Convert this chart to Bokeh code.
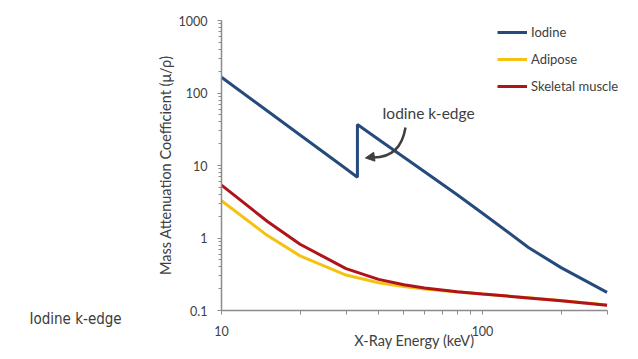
from bokeh.plotting import figure
from bokeh.models import (FixedTicker, Legend, LegendItem, Label, Arrow, NormalHead)
from bokeh.embed import file_html
from bokeh.resources import INLINE

# ---- data ----
iodine_energy = [10, 15, 20, 30, 33.17, 33.17, 40, 50, 60, 80, 100, 150, 200, 300]
iodine_mu = [165, 56.5, 26.4, 9.0, 6.9, 36.8, 22.9, 13.0, 8.2, 3.95, 2.2, 0.74, 0.39, 0.178]

tissue_energy = [10, 15, 20, 30, 40, 50, 60, 80, 100, 150, 200, 300]
adipose_mu = [3.27, 1.08, 0.567, 0.308, 0.241, 0.214, 0.198, 0.180, 0.169, 0.150, 0.137, 0.119]
muscle_mu = [5.36, 1.69, 0.82, 0.378, 0.269, 0.226, 0.205, 0.182, 0.169, 0.149, 0.136, 0.118]

series_names = ["Iodine", "Adipose", "Skeletal muscle"]

x_ticks = [10, 100]
x_tick_labels = ["10", "100"]
y_ticks = [0.1, 1, 10, 100, 1000]
y_tick_labels = ["0.1", "1", "10", "100", "1000"]

annotation_text = "Iodine k-edge"
slide_title = "Iodine k-edge"

# ---- layout / styles ----
W, H = 630, 351
FONT = "Lato"
TXT = "#404040"
AX = "#8c8c8c"
colors = ["#254a7c", "#f5c211", "#b0141b"]

# visible axis extent: x 10..300, y 0.1..1000; the frame covers the whole canvas
x_px_left, x_px_decade = 221, 261.0
y_px_top, y_px_decade = 20, 72.5
x_lo = 10 ** (1 - x_px_left / x_px_decade)
x_hi = 10 ** (1 + (W - x_px_left) / x_px_decade)
y_hi = 10 ** (3 + y_px_top / y_px_decade)
y_lo = 10 ** (3 + y_px_top / y_px_decade - H / y_px_decade)

p = figure(width=W, height=H, x_axis_type="log", y_axis_type="log",
           x_range=(x_lo, x_hi), y_range=(y_lo, y_hi),
           output_backend="svg", toolbar_location=None,
           min_border_left=0, min_border_right=0, min_border_top=0, min_border_bottom=0)
p.outline_line_color = None
p.xgrid.visible = False
p.ygrid.visible = False

r1 = p.line(iodine_energy, iodine_mu, line_color=colors[0], line_width=3)
r2 = p.line(tissue_energy, adipose_mu, line_color=colors[1], line_width=3)
r3 = p.line(tissue_energy, muscle_mu, line_color=colors[2], line_width=3)

# axes
x_minor = [m * d for d in (10, 100) for m in range(2, 10) if m * d <= 300]
y_minor = [m * d for d in (0.1, 1, 10, 100) for m in range(2, 10)]
p.xaxis.ticker = FixedTicker(ticks=x_ticks, minor_ticks=x_minor)
p.yaxis.ticker = FixedTicker(ticks=y_ticks, minor_ticks=y_minor)
p.xaxis.major_label_overrides = {t: l for t, l in zip(x_ticks, x_tick_labels)}
p.yaxis.major_label_overrides = {t: l for t, l in zip(y_ticks, y_tick_labels)}
p.xaxis.fixed_location = y_ticks[0]
p.yaxis.fixed_location = x_ticks[0]
p.xaxis.bounds = (10, 300)
p.yaxis.bounds = (0.1, 1000)

for ax in (p.xaxis[0], p.yaxis[0]):
    ax.axis_line_color = AX
    ax.axis_line_width = 1.5
    ax.major_tick_line_color = AX
    ax.minor_tick_line_color = AX
    ax.major_tick_in = 0
    ax.minor_tick_in = 0
    ax.major_label_text_font = FONT
    ax.major_label_text_font_size = "12.5px"
    ax.major_label_text_color = TXT
    ax.axis_label_text_font = FONT
    ax.axis_label_text_font_size = "14.5px"
    ax.axis_label_text_font_style = "normal"
    ax.axis_label_text_color = TXT

p.xaxis.major_tick_out = 4
p.xaxis.minor_tick_out = 4
p.xaxis.major_label_standoff = 11
p.xaxis.axis_label = "X-Ray Energy (keV)"
p.xaxis.axis_label_standoff = -7

p.yaxis.major_tick_out = 4
p.yaxis.minor_tick_out = 3
p.yaxis.major_label_standoff = 10
p.yaxis.axis_label = "Mass Attenuation Coefficient (\u03bc/\u03c1)"
p.yaxis.axis_label_standoff = 2

# legend
legend = Legend(items=[LegendItem(label=series_names[0], renderers=[r1]),
                       LegendItem(label=series_names[1], renderers=[r2]),
                       LegendItem(label=series_names[2], renderers=[r3])],
                location=(497, H - 96), padding=0, margin=0, spacing=7,
                glyph_width=30, glyph_height=20, label_standoff=4,
                label_text_font=FONT, label_text_font_size="13px",
                label_text_color=TXT, border_line_alpha=0, background_fill_alpha=0)
p.add_layout(legend)

# k-edge annotation
p.text(x=[41.3], y=[53.8], text=[annotation_text], text_font={"value": FONT},
       text_font_size="15.5px", text_color=TXT, text_baseline="middle", text_align="left")
p.quadratic(x0=[50.7], y0=[33.4], cx=[48.5], cy=[12.5], x1=[37.6], y1=[12.9],
            line_color="#3f3f3f", line_width=2.5)
p.add_layout(Arrow(x_start=38.9, y_start=13.3, x_end=35.6, y_end=12.7,
                   line_alpha=0, line_width=2.5,
                   end=NormalHead(size=9, fill_color="#3f3f3f", line_color="#3f3f3f")))

# slide title (bottom-left of the canvas)
p.add_layout(Label(x=29, y=H - 318, x_units="screen", y_units="screen", text=slide_title,
                   text_font="DejaVu Sans Condensed", text_font_size="15px",
                   text_color="#3a3a3a", text_baseline="middle", text_align="left"))

open("out.html", "w").write(file_html(p, INLINE))
